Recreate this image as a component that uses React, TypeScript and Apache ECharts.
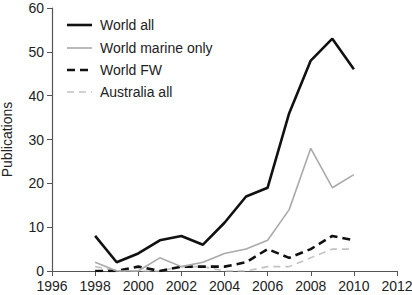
import React, { useEffect, useRef } from "react";
import * as echarts from "echarts";

const years = [1998, 1999, 2000, 2001, 2002, 2003, 2004, 2005, 2006, 2007, 2008, 2009, 2010];
const worldAll = [8, 2, 4, 7, 8, 6, 11, 17, 19, 36, 48, 53, 46];
const worldMarine = [2, 0, 0, 3, 1, 2, 4, 5, 7, 14, 28, 19, 22];
const worldFW = [0, 0, 1, 0, 1, 1, 1, 2, 5, 3, 5, 8, 7];
const australiaAll = [1, 0, 0, 0, 1, 1, 0, 0, 1, 1, 3, 5, 5];
const seriesNames = ["World all", "World marine only", "World FW", "Australia all"];

const pair = (vals: number[]) => years.map((y, i) => [y, vals[i]]);

const styles = [
  { color: "#111", width: 2.6, type: "solid" as any },
  { color: "#aaa", width: 1.6, type: "solid" as any },
  { color: "#111", width: 2.6, type: [8, 5] as any },
  { color: "#c2c2c2", width: 1.6, type: [7, 5] as any },
];

export default function App() {
  const ref = useRef<HTMLDivElement>(null);
  useEffect(() => {
    document.body.style.margin = "0";
    if (!ref.current) return;
    const chart = echarts.init(ref.current, undefined, { renderer: "svg" });
    const font = "Liberation Sans, Arial, sans-serif";
    const data = [worldAll, worldMarine, worldFW, australiaAll];
    const legendY = [25, 48, 70, 92];
    const legendGraphics: any[] = [];
    seriesNames.forEach((n, i) => {
      legendGraphics.push({
        type: "line",
        shape: { x1: 67, y1: legendY[i], x2: 92, y2: legendY[i] },
        style: { stroke: styles[i].color, lineWidth: styles[i].width, lineDash: styles[i].type === "solid" ? null : styles[i].type },
      });
      legendGraphics.push({
        type: "text",
        x: 100,
        y: legendY[i],
        style: { text: n, fontSize: 14, fill: "#222", fontFamily: font, verticalAlign: "middle" },
      });
    });
    chart.setOption({
      animation: false,
      textStyle: { fontFamily: font },
      grid: { left: 52, right: 15, top: 8, bottom: 24, containLabel: false, outerBoundsMode: "none" },
      graphic: legendGraphics,
      xAxis: {
        type: "value",
        min: 1996,
        max: 2012,
        interval: 2,
        splitLine: { show: false },
        axisLine: { lineStyle: { color: "#555", width: 1.2 } },
        axisTick: { length: 5, lineStyle: { color: "#555" } },
        axisLabel: { color: "#222", fontSize: 14, margin: 8, formatter: (v: number) => String(v) },
      },
      yAxis: {
        type: "value",
        min: 0,
        max: 60,
        interval: 10,
        name: "Publications",
        nameLocation: "middle",
        nameGap: 38,
        nameTextStyle: { color: "#222", fontSize: 14 },
        splitLine: { show: false },
        axisLine: { show: true, lineStyle: { color: "#555", width: 1.2 } },
        axisTick: { show: true, length: 5, lineStyle: { color: "#555" } },
        axisLabel: { color: "#222", fontSize: 14, margin: 8 },
      },
      series: seriesNames.map((n, i) => ({
        name: n,
        type: "line",
        data: pair(data[i]),
        showSymbol: false,
        symbol: "none",
        lineStyle: { color: styles[i].color, width: styles[i].width, type: styles[i].type },
        itemStyle: { color: styles[i].color },
        z: 4 - i,
      })),
    });
    return () => chart.dispose();
  }, []);
  return <div ref={ref} style={{ width: 412, height: 295 }} />;
}
